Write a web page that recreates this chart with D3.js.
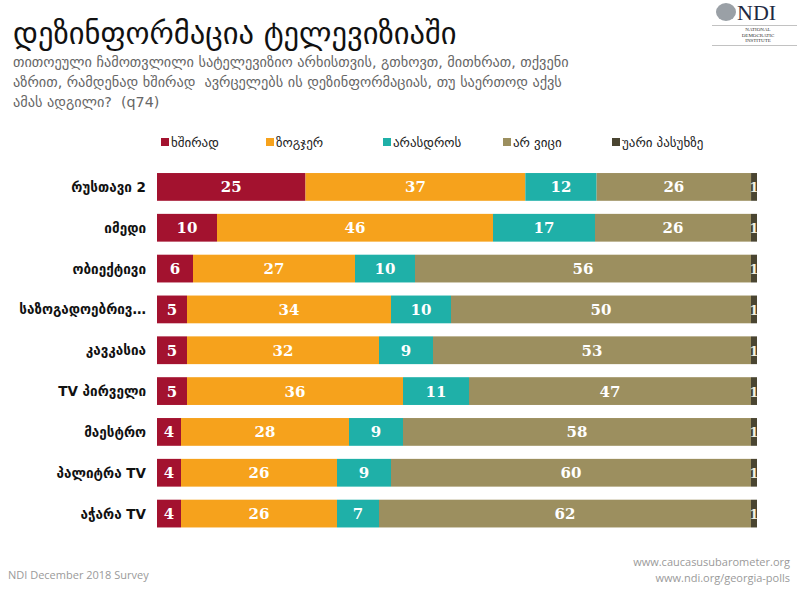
<!DOCTYPE html>
<html><head><meta charset="utf-8">
<script src="https://cdn.jsdelivr.net/npm/d3@7"></script>
<style>body{margin:0;background:#fff}svg{display:block}</style>
</head><body>
<svg id="c" width="798" height="589"></svg>
<script>
const categories = ["რუსთავი 2","იმედი","ობიექტივი","საზოგადოებრივ…","კავკასია","TV პირველი","მაესტრო","პალიტრა TV","აჭარა TV"];
const seriesNames = ["ხშირად","ზოგჯერ","არასდროს","არ ვიცი","უარი პასუხზე"];
const often    = [25,10,6,5,5,5,4,4,4];
const sometimes= [37,46,27,34,32,36,28,26,26];
const never    = [12,17,10,10,9,11,9,9,7];
const dontKnow = [26,26,56,50,53,47,58,60,62];
const refuse   = [1,1,1,1,1,1,1,1,1];
const colors = ["#A3122F","#F6A21C","#1FB0A8","#9C8F5F","#4A4531"];

const seriesValues = [often,sometimes,never,dontKnow,refuse];
const rows = categories.map((c,i)=>{const o={cat:c}; seriesNames.forEach((s,j)=>o[s]=seriesValues[j][i]); return o;});

const svg = d3.select("#c");
const font = "'DejaVu Sans', sans-serif";

// Title
svg.append("text").attr("x",13).attr("y",44).attr("font-family",font).attr("font-size",30.5).attr("fill","#111").text("დეზინფორმაცია ტელევიზიაში");
const sub = ["თითოეული ჩამოთვლილი სატელევიზიო არხისთვის, გთხოვთ, მითხრათ, თქვენი",
 "აზრით, რამდენად ხშირად  ავრცელებს ის დეზინფორმაციას, თუ საერთოდ აქვს",
 "ამას ადგილი?  (q74)"];
svg.append("g").selectAll("text").data(sub).join("text")
 .attr("x",13).attr("y",(d,i)=>67+i*20).attr("font-family",font).attr("font-size",14.3).attr("fill","#666")
 .attr("xml:space","preserve").style("white-space","pre").text(d=>d);

// Logo
const logo = svg.append("g");
logo.append("ellipse").attr("cx",726).attr("cy",12).attr("rx",10).attr("ry",9).attr("fill","#9aa0a6");
logo.append("text").attr("x",737).attr("y",20).attr("font-family","'Liberation Serif', serif").attr("font-size",22).attr("fill","#1f2a44").text("NDI");
["NATIONAL","DEMOCRATIC","INSTITUTE"].forEach((t,i)=>logo.append("text").attr("x",758).attr("y",31+i*5.5).attr("text-anchor","middle").attr("font-family","'Liberation Serif', serif").attr("font-size",5).attr("fill","#333").text(t));
logo.append("line").attr("x1",712).attr("x2",797).attr("y1",25.5).attr("y2",25.5).attr("stroke","#999").attr("stroke-width",0.6);
logo.append("line").attr("x1",712).attr("x2",797).attr("y1",45.5).attr("y2",45.5).attr("stroke","#999").attr("stroke-width",0.6);

// Legend
const legX = [161,266,383,503,612];
const leg = svg.append("g").selectAll("g").data(seriesNames).join("g").attr("transform",(d,i)=>`translate(${legX[i]},143)`);
leg.append("rect").attr("x",0).attr("y",-5).attr("width",8).attr("height",8).attr("fill",(d,i)=>colors[i]);
leg.append("text").attr("x",10).attr("y",4).attr("font-family",font).attr("font-size",13).attr("fill","#222").text(d=>d);

// Chart
const x = d3.scaleLinear().domain([0,1]).range([157,757]);
const y = d3.scaleBand().domain(categories).range([166.5,534]).paddingInner(0.32).paddingOuter(0.16);
const stack = d3.stack().keys(seriesNames).offset(d3.stackOffsetExpand);
const stacked = stack(rows);

const g = svg.append("g");
stacked.forEach((layer,li)=>{
  const lg = g.append("g");
  lg.selectAll("rect").data(layer).join("rect")
    .attr("x",d=>x(d[0])).attr("width",d=>x(d[1])-x(d[0]))
    .attr("y",d=>y(d.data.cat)).attr("height",y.bandwidth())
    .attr("fill",colors[li]);
  lg.selectAll("text").data(layer).join("text")
    .attr("x",d=>(x(d[0])+x(d[1]))/2).attr("y",d=>y(d.data.cat)+y.bandwidth()/2+5.5)
    .attr("text-anchor","middle").attr("font-family","'DejaVu Serif', serif").attr("font-weight","bold")
    .attr("font-size",li===4?13:15).attr("fill",li===4?"#f4f0e0":"#fff")
    .text(d=>d.data[seriesNames[li]]);
});

// Category labels
svg.append("g").selectAll("text").data(categories).join("text")
  .attr("x",146).attr("y",d=>y(d)+y.bandwidth()/2+5).attr("text-anchor","end")
  .attr("font-family",font).attr("font-weight","bold").attr("font-size",13.5).attr("fill","#111").text(d=>d);

// Footer
const ff = "'Open Sans', 'Liberation Sans', sans-serif";
svg.append("text").attr("x",8).attr("y",579).attr("font-family",ff).attr("font-size",11).attr("fill","#9a9a9a").text("NDI December 2018 Survey");
svg.append("text").attr("x",790).attr("y",566).attr("text-anchor","end").attr("font-family",ff).attr("font-size",11).attr("fill","#9a9a9a").text("www.caucasusubarometer.org");
svg.append("text").attr("x",790).attr("y",582).attr("text-anchor","end").attr("font-family",ff).attr("font-size",11).attr("fill","#9a9a9a").text("www.ndi.org/georgia-polls");
</script>
</body></html>
